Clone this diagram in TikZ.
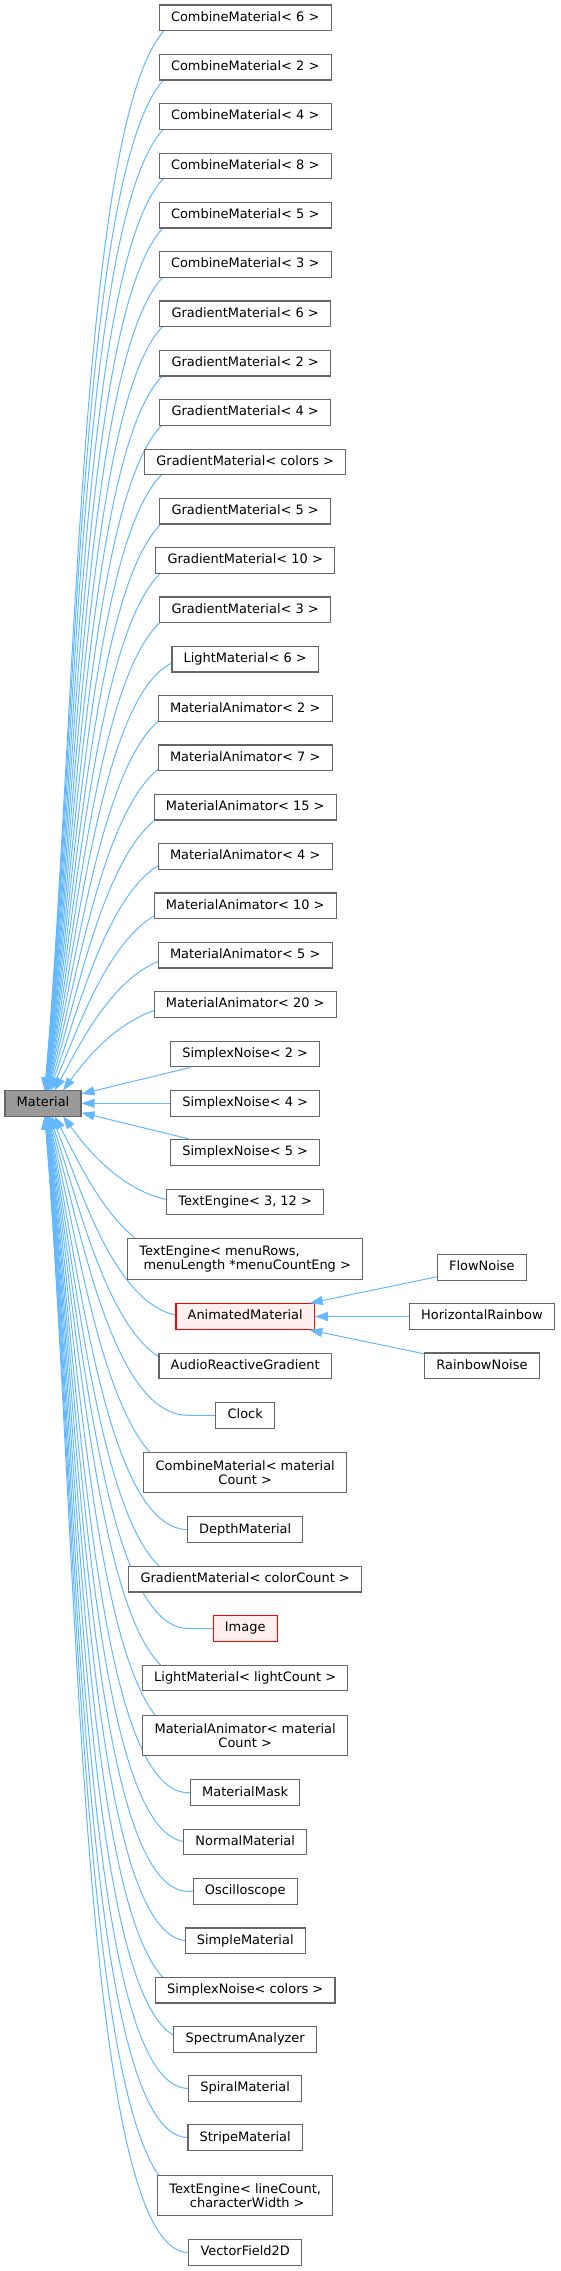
\documentclass[tikz,border=0pt]{standalone}
\usepackage{fontspec}
\setmainfont{DejaVu Sans}
\usetikzlibrary{arrows.meta,backgrounds}
\definecolor{edgeblue}{HTML}{63B8FF}
\definecolor{boxgray}{HTML}{666666}
\definecolor{matfill}{HTML}{999999}
\definecolor{hlfill}{HTML}{FFF0F0}
\definecolor{hlred}{HTML}{FF0000}

% #1 node, #2 centre y (pixels, downwards), #3 rows away, #4 +1 above / -1 below
\newcommand\fanedge[4]{%
 \pgfmathsetmacro\Vv{abs(#2-1103.3)-12.6}%
 \pgfmathsetmacro\xmm{43+20/exp(0.8*ln(#3-1))}%
 \pgfmathsetmacro\Hh{188.5-\xmm}%
 \pgfmathsetmacro\fr{\Vv/1000}%
 \pgfmathsetmacro\fr{\fr>1?1:\fr}%
 \pgfmathsetmacro\dA{\Hh*(0.46+0.3*\fr)}%
 \pgfmathsetmacro\dB{0.36*\Vv+7}%
 \pgfmathsetmacro\ang{0.65*atan(\Hh/\Vv)}%
 \pgfmathsetmacro\cax{188.5-\dA}%
 \pgfmathsetmacro\cay{-#2}%
 \pgfmathsetmacro\my{-1103.3+#4*12.8}%
 \pgfmathsetmacro\cbx{\xmm+\dB*sin(\ang)}%
 \pgfmathsetmacro\cby{\my+#4*\dB*cos(\ang)}%
 \draw[inh] (#1.center) -- ++(-56.7,0) .. controls (\cax,\cay) and (\cbx,\cby) .. (\xmm,\my);%
}

\begin{document}
\begin{tikzpicture}[x=1pt,y=1pt,
  basebox/.style={draw=boxgray, fill=white, line width=1.1pt,
    font=\fontsize{12.95pt}{14pt}\selectfont, inner xsep=11.7pt, inner ysep=0pt},
  sbox/.style={basebox, minimum height=25.6pt, text height=9.8pt, text depth=3.1pt},
  dbox/.style={basebox, minimum height=40.3pt, align=center},
  hl/.style={draw=hlred, fill=hlfill},
  inh/.style={draw=edgeblue, line width=1pt, -{Triangle[length=13pt,width=9pt]}}]

\useasboundingbox (0,0) rectangle (560,-2271);

% base class
\node[sbox, fill=matfill] (mat) at (43,-1103.3) {Material};

% left column
\node[sbox] (cmA) at (245.2,-17.8) {CombineMaterial< 6 >};
\node[sbox] (cmB) at (245.2,-67.2) {CombineMaterial< 2 >};
\node[sbox] (cmC) at (245.2,-116.5) {CombineMaterial< 4 >};
\node[sbox] (cmD) at (245.2,-166.0) {CombineMaterial< 8 >};
\node[sbox] (cmE) at (245.2,-215.2) {CombineMaterial< 5 >};
\node[sbox] (cmF) at (245.2,-264.5) {CombineMaterial< 3 >};
\node[sbox] (gmA) at (245.2,-313.8) {GradientMaterial< 6 >};
\node[sbox] (gmB) at (245.2,-363.2) {GradientMaterial< 2 >};
\node[sbox] (gmC) at (245.2,-412.4) {GradientMaterial< 4 >};
\node[sbox] (gmD) at (245.2,-462.0) {GradientMaterial< colors >};
\node[sbox] (gmE) at (245.2,-511.2) {GradientMaterial< 5 >};
\node[sbox] (gmF) at (245.2,-560.5) {GradientMaterial< 10 >};
\node[sbox] (gmG) at (245.2,-609.8) {GradientMaterial< 3 >};
\node[sbox] (lmA) at (245.2,-659.2) {LightMaterial< 6 >};
\node[sbox] (maA) at (245.2,-708.7) {MaterialAnimator< 2 >};
\node[sbox] (maB) at (245.2,-757.8) {MaterialAnimator< 7 >};
\node[sbox] (maC) at (245.2,-807.2) {MaterialAnimator< 15 >};
\node[sbox] (maD) at (245.2,-856.5) {MaterialAnimator< 4 >};
\node[sbox] (maE) at (245.2,-905.8) {MaterialAnimator< 10 >};
\node[sbox] (maF) at (245.2,-955.2) {MaterialAnimator< 5 >};
\node[sbox] (maG) at (245.2,-1004.5) {MaterialAnimator< 20 >};
\node[sbox] (snA) at (245.2,-1054.0) {SimplexNoise< 2 >};
\node[sbox] (snB) at (245.2,-1103.3) {SimplexNoise< 4 >};
\node[sbox] (snC) at (245.2,-1152.6) {SimplexNoise< 5 >};
\node[sbox] (teA) at (245.2,-1202.0) {TextEngine< 3, 12 >};
\node[dbox, align=left] (teB) at (245.2,-1259.0) {TextEngine< menuRows,\\\hspace*{0.32em}menuLength *menuCountEng >};
\node[sbox, hl] (am) at (245.2,-1316.5) {AnimatedMaterial};
\node[sbox] (arg) at (245.2,-1366.0) {AudioReactiveGradient};
\node[sbox] (clock) at (245.2,-1415.3) {Clock};
\node[dbox] (cmG) at (245.2,-1472.5) {CombineMaterial< material\\Count >};
\node[sbox] (depth) at (245.2,-1529.7) {DepthMaterial};
\node[sbox] (gmH) at (245.2,-1579.2) {GradientMaterial< colorCount >};
\node[sbox, hl] (image) at (245.2,-1628.5) {Image};
\node[sbox] (lmB) at (245.2,-1678.0) {LightMaterial< lightCount >};
\node[dbox] (maH) at (245.2,-1735.2) {MaterialAnimator< material\\Count >};
\node[sbox] (mask) at (245.2,-1792.7) {MaterialMask};
\node[sbox] (normal) at (245.2,-1842.0) {NormalMaterial};
\node[sbox] (osc) at (245.2,-1891.4) {Oscilloscope};
\node[sbox] (simple) at (245.2,-1940.8) {SimpleMaterial};
\node[sbox] (snD) at (245.2,-1990.2) {SimplexNoise< colors >};
\node[sbox] (spec) at (245.2,-2039.5) {SpectrumAnalyzer};
\node[sbox] (spiral) at (245.2,-2088.5) {SpiralMaterial};
\node[sbox] (stripe) at (245.2,-2137.7) {StripeMaterial};
\node[dbox] (teC) at (245.2,-2195.2) {TextEngine< lineCount,\\\hspace*{0.32em}characterWidth >};
\node[sbox] (vf) at (245.2,-2252.5) {VectorField2D};

% right column
\node[sbox] (fn) at (481.9,-1267.5) {FlowNoise};
\node[sbox] (hr) at (481.9,-1316.5) {HorizontalRainbow};
\node[sbox] (rn) at (481.9,-1365.8) {RainbowNoise};

% straight edges
\draw[inh] (snA) -- (mat);
\draw[inh] (snB) -- (mat);
\draw[inh] (snC) -- (mat);
\draw[inh] (fn) -- (am);
\draw[inh] (hr) -- (am);
\draw[inh] (rn) -- (am);

\begin{pgfonlayer}{background}
\fill[white] (0,0) rectangle (560,-2271);
\fanedge{cmA}{17.8}{22}{1}
\fanedge{cmB}{67.2}{21}{1}
\fanedge{cmC}{116.5}{20}{1}
\fanedge{cmD}{166.0}{19}{1}
\fanedge{cmE}{215.2}{18}{1}
\fanedge{cmF}{264.5}{17}{1}
\fanedge{gmA}{313.8}{16}{1}
\fanedge{gmB}{363.2}{15}{1}
\fanedge{gmC}{412.4}{14}{1}
\fanedge{gmD}{462.0}{13}{1}
\fanedge{gmE}{511.2}{12}{1}
\fanedge{gmF}{560.5}{11}{1}
\fanedge{gmG}{609.8}{10}{1}
\fanedge{lmA}{659.2}{9}{1}
\fanedge{maA}{708.7}{8}{1}
\fanedge{maB}{757.8}{7}{1}
\fanedge{maC}{807.2}{6}{1}
\fanedge{maD}{856.5}{5}{1}
\fanedge{maE}{905.8}{4}{1}
\fanedge{maF}{955.2}{3}{1}
\fanedge{maG}{1004.5}{2}{1}
\fanedge{teA}{1202.0}{2}{-1}
\fanedge{teB}{1259.0}{3}{-1}
\fanedge{am}{1316.5}{4}{-1}
\fanedge{arg}{1366.0}{5}{-1}
\fanedge{clock}{1415.3}{6}{-1}
\fanedge{cmG}{1472.5}{7}{-1}
\fanedge{depth}{1529.7}{8}{-1}
\fanedge{gmH}{1579.2}{9}{-1}
\fanedge{image}{1628.5}{10}{-1}
\fanedge{lmB}{1678.0}{11}{-1}
\fanedge{maH}{1735.2}{12}{-1}
\fanedge{mask}{1792.7}{13}{-1}
\fanedge{normal}{1842.0}{14}{-1}
\fanedge{osc}{1891.4}{15}{-1}
\fanedge{simple}{1940.8}{16}{-1}
\fanedge{snD}{1990.2}{17}{-1}
\fanedge{spec}{2039.5}{18}{-1}
\fanedge{spiral}{2088.5}{19}{-1}
\fanedge{stripe}{2137.7}{20}{-1}
\fanedge{teC}{2195.2}{21}{-1}
\fanedge{vf}{2252.5}{22}{-1}
\end{pgfonlayer}
\end{tikzpicture}
\end{document}
